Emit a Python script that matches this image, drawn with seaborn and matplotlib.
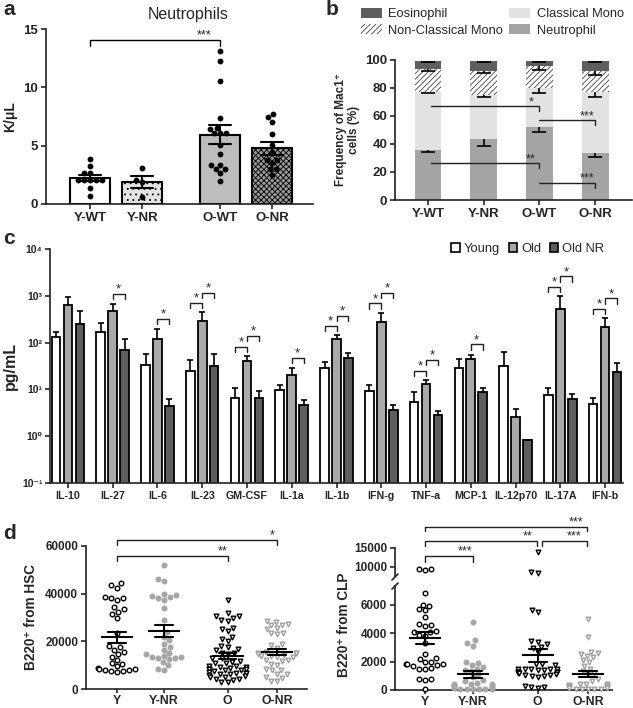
import numpy as np
import pandas as pd
import matplotlib
matplotlib.use("Agg")
import matplotlib.pyplot as plt
from matplotlib.patches import Patch
from matplotlib.lines import Line2D
import seaborn as sns
import warnings
warnings.filterwarnings("ignore")

# ---------------- data ----------------
# panel a : neutrophils (K/uL)
a_groups = ["Y-WT", "Y-NR", "O-WT", "O-NR"]
a_ywt = [3.86, 3.29, 2.63, 2.63, 2.06, 2.06, 2.06, 2.06, 2.06, 1.34, 0.71]
a_ynr = [3.1, 2.1, 1.9, 0.6]
a_owt = [13.14, 12.26, 10.54, 7.34, 6.49, 6.43, 6.06, 6.06, 6.06, 5.06, 4.29,
         3.34, 3.34, 2.97, 2.97, 2.63, 2.0]
a_onr = [7.71, 7.43, 7.06, 5.97, 5.06, 4.49, 3.77, 3.77, 3.49, 2.97, 2.97, 2.49]

# panel b : frequency of Mac1+ cells (%), segment sizes and SEM
b_groups = ["Y-WT", "Y-NR", "O-WT", "O-NR"]
b_neutrophil = [35.7, 43.3, 51.9, 33.3]
b_classical = [41.2, 31.7, 27.9, 43.6]
b_nonclassical = [16.4, 17.1, 16.2, 15.2]
b_eosinophil = [6.0, 7.4, 3.2, 7.2]
b_neutrophil_sem = [1.2, 4.7, 3.6, 2.8]
b_classical_sem = [0.5, 1.6, 3.5, 3.4]
b_nonclassical_sem = [1.2, 1.6, 3.1, 2.8]
b_eosinophil_sem = [0.5, 0.7, 0.4, 1.0]

# panel c : cytokines (pg/mL)
c_cytokines = ["IL-10", "IL-27", "IL-6", "IL-23", "GM-CSF", "IL-1a", "IL-1b",
               "IFN-g", "TNF-a", "MCP-1", "IL-12p70", "IL-17A", "IFN-b"]
c_groups = ["Young", "Old", "Old NR"]
c_young = [130, 169, 34, 25, 6.6, 9.8, 29, 9.3, 5.5, 29, 31, 7.6, 4.9]
c_young_err = [40, 89, 22, 17, 4.0, 2.8, 10, 3.3, 3.4, 16, 31, 3.3, 1.7]
c_old = [640, 480, 120, 293, 40, 20.4, 122, 272, 12.9, 44, 2.6, 530, 212]
c_old_err = [300, 185, 72, 149, 12, 7.6, 22, 163, 3.0, 11, 1.2, 455, 122]
c_oldnr = [254, 71, 4.4, 32, 6.6, 4.7, 46, 3.7, 2.9, 8.9, 0.82, 6.2, 24]
c_oldnr_err = [226, 47, 1.7, 25, 2.5, 1.3, 14, 0.9, 0.6, 1.6, 0, 1.9, 13]
c_sig_young_old = ["IL-23", "GM-CSF", "IL-1b", "IFN-g", "TNF-a", "IL-17A", "IFN-b"]
c_sig_old_oldnr = ["IL-27", "IL-6", "IL-23", "GM-CSF", "IL-1a", "IL-1b", "IFN-g",
                   "TNF-a", "MCP-1", "IL-17A", "IFN-b"]

# panel d : B220+ output
d_groups = ["Y", "Y-NR", "O", "O-NR"]
d_hsc_y = [44500, 43500, 42500, 38500, 38000, 38000, 37500, 34500, 33500, 32500,
           31500, 30000, 23500, 18000, 17500, 16500, 15500, 14500, 13500, 12000,
           11000, 10500, 9500, 9000, 8500, 8500, 8000, 8000, 7500, 7500, 7000]
d_hsc_ynr = [52000, 46000, 45500, 40000, 39500, 39000, 38500, 38000, 37500, 34000,
             29000, 24000, 22000, 20500, 19000, 17500, 16500, 15000, 14500, 14000,
             13500, 13500, 13000, 13000, 12500, 11500, 10000, 8500, 8000]
d_hsc_o = [37400, 31900, 30500, 30500, 30000, 29100, 28500, 25700, 25000, 24300,
           21800, 21000, 20100, 18000, 17500, 16700, 16200, 15300, 15000, 14500,
           13200, 12800, 11600, 11400, 11000, 10800, 9800, 9600, 9400, 9200,
           9000, 8400, 8300, 8200, 8000, 7800, 7600, 7000, 6900, 6800,
           6600, 6500, 6300, 5700, 5500, 5200, 5000, 4300, 4100, 3900, 2900, 2800]
d_hsc_onr = [28700, 28200, 27300, 27000, 26800, 25700, 25200, 23600, 23300, 23000,
             19000, 18600, 17400, 15500, 15300, 15200, 15000, 14800, 14200, 14000,
             13800, 13600, 13500, 12300, 12000, 11800, 10500, 10200, 8200, 8000,
             7800, 6400, 6200, 5000, 4800, 3400, 3200]
d_clp_y = [9400, 9200, 9500, 6800, 6000, 5900, 5700, 5600, 5150, 4600, 4550, 4500,
           4150, 4100, 4050, 3850, 3800, 3300, 2500, 2250, 2200, 2000, 1950, 1850,
           1800, 1800, 1750, 1700, 1550, 1500, 1500, 800, 750, 700, 100]
d_clp_ynr = [4800, 3500, 3300, 3100, 2000, 1900, 1750, 1600, 1500, 1400, 1300, 1100,
             900, 700, 600, 500, 450, 400, 400, 350, 300, 250, 200, 150, 100, 100,
             80, 60, 50, 50]
d_clp_o = [13900, 8600, 8500, 5600, 5450, 3450, 3400, 3200, 3050, 2950, 2700, 1850,
           1800, 1750, 1500, 1480, 1470, 1450, 1440, 1420, 1400, 1260, 1250, 1240,
           1230, 1220, 1200, 1100, 1050, 1020, 1000, 980, 900, 250, 200, 180, 150]
d_clp_onr = [5000, 3700, 2700, 2600, 2500, 2400, 2300, 2100, 2000, 1700, 1500, 1300,
             1200, 1100, 800, 600, 450, 450, 400, 350, 300, 300, 250, 200, 200, 200,
             150, 150, 100, 100, 100, 50, 50]

# ---------------- style ----------------
sns.set_style("ticks")
plt.rcParams["font.family"] = ["Liberation Sans", "DejaVu Sans"]
plt.rcParams["font.weight"] = "bold"
plt.rcParams["axes.labelweight"] = "bold"
plt.rcParams["axes.linewidth"] = 1.2
plt.rcParams["axes.edgecolor"] = "#222222"
plt.rcParams["xtick.major.width"] = 1.2
plt.rcParams["ytick.major.width"] = 1.2
plt.rcParams["xtick.major.size"] = 3.5
plt.rcParams["ytick.major.size"] = 3.5
plt.rcParams["xtick.major.pad"] = 2
plt.rcParams["ytick.major.pad"] = 2
plt.rcParams["hatch.linewidth"] = 0.6

W, H = 633, 708
fig = plt.figure(figsize=(W / 100, H / 100), dpi=100)


def add_ax(l, t, r, b):
    return fig.add_axes([l / W, 1 - b / H, (r - l) / W, (b - t) / H])


def fxy(x, y):
    return x / W, 1 - y / H


def fig_line(x0, y0, x1, y1, lw=1.2):
    fig.add_artist(Line2D([x0 / W, x1 / W], [1 - y0 / H, 1 - y1 / H],
                          transform=fig.transFigure, color="#222222", lw=lw))


# ======================= panel a =======================
ax = add_ax(46, 29, 313, 204)
a_pos = [0, 1, 2.5, 3.5]
a_vals = [a_ywt, a_ynr, a_owt, a_onr]
dfa = pd.DataFrame({"group": np.repeat(a_groups, [len(v) for v in a_vals]),
                    "val": np.concatenate(a_vals)})
dfa["pos"] = dfa["group"].map(dict(zip(a_groups, a_pos)))
sns.barplot(data=dfa, x="pos", y="val", hue="group", hue_order=a_groups,
            palette=["white", "#e4e4e4", "#bdbdbd", "#9a9a9a"], native_scale=True,
            dodge=False, width=0.78, errorbar="se", capsize=0.42,
            err_kws={"color": "black", "linewidth": 1.5}, edgecolor="black",
            linewidth=1.5, saturation=1, legend=False, ax=ax)
for cont, hatch in zip(ax.containers, [None, "...", None, "xxxxxx"]):
    if hatch:
        for p in cont:
            p.set_hatch(hatch)
sns.swarmplot(data=dfa, x="pos", y="val", native_scale=True, color="black",
              size=4.2, ax=ax)
for ln in ax.lines:
    ln.set_zorder(5)
ax.set_xlim(-0.85, 4.29)
ax.set_ylim(0, 15)
ax.set_yticks([0, 5, 10, 15])
ax.set_xticks(a_pos, a_groups, fontsize=9.5)
ax.tick_params(axis="y", labelsize=9.5)
ax.set_xlabel("")
ax.set_ylabel("K/μL", fontsize=10, labelpad=5)
sns.despine(ax=ax)
ax.plot([a_pos[0], a_pos[0], a_pos[2], a_pos[2]], [13.55, 14.05, 14.05, 13.55],
        color="black", lw=1, clip_on=False)
ax.text(2.2, 14.2, "***", ha="center", va="baseline", fontsize=9, fontweight="normal")
fig.text(*fxy(188, 14), "Neutrophils", ha="center", va="center", fontsize=11.5,
         fontweight="normal")

# ======================= panel b =======================
ax = add_ax(395, 60, 632, 200)
b_parts = np.array([b_neutrophil, b_classical, b_nonclassical, b_eosinophil])
b_sems = [b_neutrophil_sem, b_classical_sem, b_nonclassical_sem, b_eosinophil_sem]
b_tops = np.cumsum(b_parts, axis=0)
b_colors = ["#a4a4a4", "#e2e2e2", "white", "#5e5e5e"]
for layer in [3, 2, 1, 0]:
    sns.barplot(x=b_groups, y=b_tops[layer], color=b_colors[layer], width=0.48,
                errorbar=None, saturation=1, linewidth=0, ax=ax)
    if layer == 2:
        for p in ax.containers[-1]:
            p.set_hatch("//////")
            p.set_edgecolor("#444444")
            p.set_linewidth(0)
bx = np.arange(len(b_groups))
for layer in range(4):
    eb = ax.errorbar(bx, b_tops[layer], yerr=[b_sems[layer], np.zeros(len(bx))],
                     fmt="none", ecolor="black", elinewidth=1.2, capsize=4.7,
                     capthick=1.2, zorder=4)
    eb[1][1].set_visible(False)
ax.set_xlim(-0.59, 3.66)
ax.set_ylim(0, 100)
ax.set_yticks([0, 20, 40, 60, 80, 100])
ax.set_xticks(bx, b_groups, fontsize=9.5)
ax.tick_params(axis="y", labelsize=9.5)
ax.set_ylabel("Frequency of Mac1⁺\ncells (%)", fontsize=8.5, linespacing=1.05,
              labelpad=4)
sns.despine(ax=ax)
for (x0, x1, y, drop, star) in [(0.05, 2, 67, 3.2, "*"), (2, 3, 57, 3.5, "***"),
                                 (0.05, 2, 26.2, 3.6, "**"), (2, 3, 12.4, 4.1, "***")]:
    ax.plot([x0, x1, x1], [y, y, y - drop], color="#222222", lw=1, zorder=6)
    ax.text(x1 - 0.15, y + 0.8, star, ha="center", va="baseline", fontsize=9,
            fontweight="normal", zorder=6)
b_handles = [Patch(facecolor=b_colors[3], linewidth=0),
             Patch(facecolor="white", hatch="//////", edgecolor="#444444", linewidth=0),
             Patch(facecolor=b_colors[1], linewidth=0),
             Patch(facecolor=b_colors[0], linewidth=0)]
fig.legend(b_handles, ["Eosinophil", "Non-Classical Mono", "Classical Mono", "Neutrophil"],
           ncol=2, loc="upper left", bbox_to_anchor=fxy(352, -1), frameon=False,
           prop={"size": 9.3, "weight": "normal"}, handlelength=1.6, handleheight=0.8,
           handletextpad=0.5, columnspacing=0.5, labelspacing=0.3, borderpad=0.2)

# ======================= panel c =======================
ax = add_ax(50, 249, 623, 483)
ax.set_yscale("log")
dfc = pd.DataFrame({"cytokine": c_cytokines * 3,
                    "group": np.repeat(c_groups, len(c_cytokines)),
                    "val": c_young + c_old + c_oldnr})
c_colors = ["white", "#a9a9a9", "#5e5e5e"]
sns.barplot(data=dfc, x="cytokine", y="val", hue="group", order=c_cytokines,
            hue_order=c_groups, palette=c_colors, errorbar=None, width=0.8, gap=0.28,
            edgecolor="black", linewidth=1.3, saturation=1, legend=False, ax=ax)
c_vals = [c_young, c_old, c_oldnr]
c_errs = [c_young_err, c_old_err, c_oldnr_err]
centers = []
for cont, errs in zip(ax.containers[:3], c_errs):
    xs = np.array([p.get_x() + p.get_width() / 2 for p in cont])
    hs = np.array([p.get_height() for p in cont])
    centers.append(xs)
    eb = ax.errorbar(xs, hs, yerr=[np.zeros(len(errs)), errs], fmt="none",
                     ecolor="black", elinewidth=1.2, capsize=2.2, capthick=1.2, zorder=3)
    eb[1][0].set_visible(False)
step_drop = 10 ** -0.11


def c_bracket(x0, x1, top):
    ax.plot([x0, x0, x1, x1], [top * step_drop, top, top, top * step_drop],
            color="#222222", lw=1, zorder=4)
    ax.text((x0 + x1) / 2, top * 10 ** 0.03, "*", ha="center", va="baseline",
            fontsize=9.5, fontweight="normal")


for i, cyt in enumerate(c_cytokines):
    tops = [c_vals[g][i] + c_errs[g][i] for g in range(3)]
    if cyt in c_sig_young_old:
        c_bracket(centers[0][i], centers[1][i], max(tops[0], tops[1]) * 10 ** 0.2)
    if cyt in c_sig_old_oldnr:
        lift = 0.42 if cyt in c_sig_young_old else 0.22
        c_bracket(centers[1][i], centers[2][i], max(tops[1], tops[2]) * 10 ** lift)
ax.set_ylim(0.1, 10000)
ax.set_yticks([0.1, 1, 10, 100, 1000, 10000],
              ["10⁻¹", "10⁰", "10¹", "10²", "10³", "10⁴"], fontsize=7.5)
ax.yaxis.set_minor_locator(matplotlib.ticker.NullLocator())
ax.set_xlim(-0.4, 12.4)
ax.set_xticks(range(len(c_cytokines)), c_cytokines, fontsize=7.7)
ax.set_xlabel("")
ax.set_ylabel("pg/mL", fontsize=11.5, labelpad=3)
sns.despine(ax=ax)
c_handles = [Patch(facecolor=c, edgecolor="black", linewidth=1.2) for c in c_colors]
ax.legend(c_handles, c_groups, ncol=3, loc="center right",
          bbox_to_anchor=((612 - 50) / 573, 1.0), frameon=False,
          prop={"size": 9.3, "weight": "normal"}, handlelength=0.65, handleheight=0.65,
          handletextpad=0.3, columnspacing=0.7, borderpad=0.1)

# ======================= panel d =======================
d_pos = [0, 1, 2.35, 3.4]
d_styles = [dict(marker="o", color="white", edgecolor="black"),
            dict(marker="o", color="#a6a6a6", edgecolor="#a6a6a6"),
            dict(marker="v", color="white", edgecolor="black"),
            dict(marker="v", color="white", edgecolor="#a0a0a0")]


def d_points(ax, vals, pos, st, clip=True):
    vals = np.asarray(vals, dtype=float)
    if len(vals) == 0:
        return
    sns.swarmplot(x=np.full(len(vals), pos), y=vals, native_scale=True, size=3.3,
                  linewidth=1.0, ax=ax, clip_on=clip, **st)


def d_means(ax, vals_list):
    df = pd.DataFrame({"pos": np.repeat(d_pos, [len(v) for v in vals_list]),
                       "val": np.concatenate(vals_list)})
    sns.pointplot(data=df, x="pos", y="val", native_scale=True, errorbar="se",
                  capsize=0.38, color="black", linestyle="none", marker="_",
                  markersize=23, markeredgewidth=1.5, err_kws={"linewidth": 1.5},
                  ax=ax)
    for ln in ax.lines:
        ln.set_zorder(6)


# ---- d left (HSC)
ax = add_ax(86, 546, 307, 689)
hsc = [d_hsc_y, d_hsc_ynr, d_hsc_o, d_hsc_onr]
for vals, pos, st in zip(hsc, d_pos, d_styles):
    d_points(ax, vals, pos, st)
d_means(ax, hsc)
ax.set_xlim(-0.66, 4.04)
ax.set_ylim(0, 60000)
ax.set_yticks([0, 20000, 40000, 60000])
ax.tick_params(axis="y", labelsize=8.5)
ax.tick_params(axis="x", pad=1, length=3)
ax.set_xticks(d_pos, d_groups, fontsize=8.8)
ax.set_xlabel("")
ax.set_ylabel("B220⁺ from HSC", fontsize=9.8, labelpad=5)
sns.despine(ax=ax)
for (x0, x1, y, drop, star) in [(0, 2.35, 55900, 2100, "**"), (0, 3.4, 62500, 2100, "*")]:
    ax.plot([x0, x0, x1, x1], [y - drop, y, y, y - drop], color="#222222", lw=1,
            clip_on=False)
    ax.text(x1 - 0.1, y + 700, star, ha="center", va="baseline", fontsize=9,
            fontweight="normal")

# ---- d right (CLP), broken axis
axl = add_ax(395, 586, 612, 690)
axu = add_ax(395, 548, 612, 576)
clp = [d_clp_y, d_clp_ynr, d_clp_o, d_clp_onr]
cut = 7400
for vals, pos, st in zip(clp, d_pos, d_styles):
    v = np.asarray(vals, dtype=float)
    d_points(axl, v[v < cut], pos, st, clip=False)
    d_points(axu, v[v >= cut], pos, st, clip=False)
d_means(axl, clp)
for a in (axl, axu):
    a.set_xlim(-0.625, 3.9)
    a.set_xlabel("")
    a.set_ylabel("")
axl.set_ylim(0, 7300)
axl.set_yticks([0, 2000, 4000, 6000])
axl.set_xticks(d_pos, d_groups, fontsize=8.8)
axl.tick_params(axis="y", labelsize=8.5)
axl.tick_params(axis="x", pad=1, length=3)
axu.set_ylim(7600, 15000)
axu.set_yticks([10000, 15000])
axu.tick_params(axis="y", labelsize=8.5)
axu.set_xticks([])
sns.despine(ax=axl)
sns.despine(ax=axu, bottom=True)
fig_line(392, 580, 398, 574)
fig_line(392, 589, 398, 583)
fig.text(*fxy(344, 625), "B220⁺ from CLP", rotation=90, ha="center", va="center",
         fontsize=9.8)
for (x0, x1, y, drop, star, sx) in [(0, 1, 12900, 1500, "***", 0.83),
                                     (0, 2.33, 16900, 1400, "**", 2.15),
                                     (2.43, 3.37, 16900, 1400, "***", 3.1),
                                     (0, 3.37, 20600, 1100, "***", 3.16)]:
    axu.plot([x0, x0, x1, x1], [y - drop, y, y, y - drop], color="#222222", lw=1,
             clip_on=False)
    axu.text(sx, y + 350, star, ha="center", va="baseline", fontsize=9,
             fontweight="normal", clip_on=False)

# ---------------- bold tick labels everywhere ----------------
for a in fig.axes:
    for t in a.get_xticklabels() + a.get_yticklabels():
        t.set_fontweight("bold")

# ---------------- panel letters ----------------
for (x, y, s) in [(3, 0, "a"), (326, 0, "b"), (3, 229, "c"), (3, 524, "d")]:
    fig.text(*fxy(x, y), s, fontsize=15, fontweight="bold", ha="left", va="top")

fig.savefig("out.png", dpi=100)
